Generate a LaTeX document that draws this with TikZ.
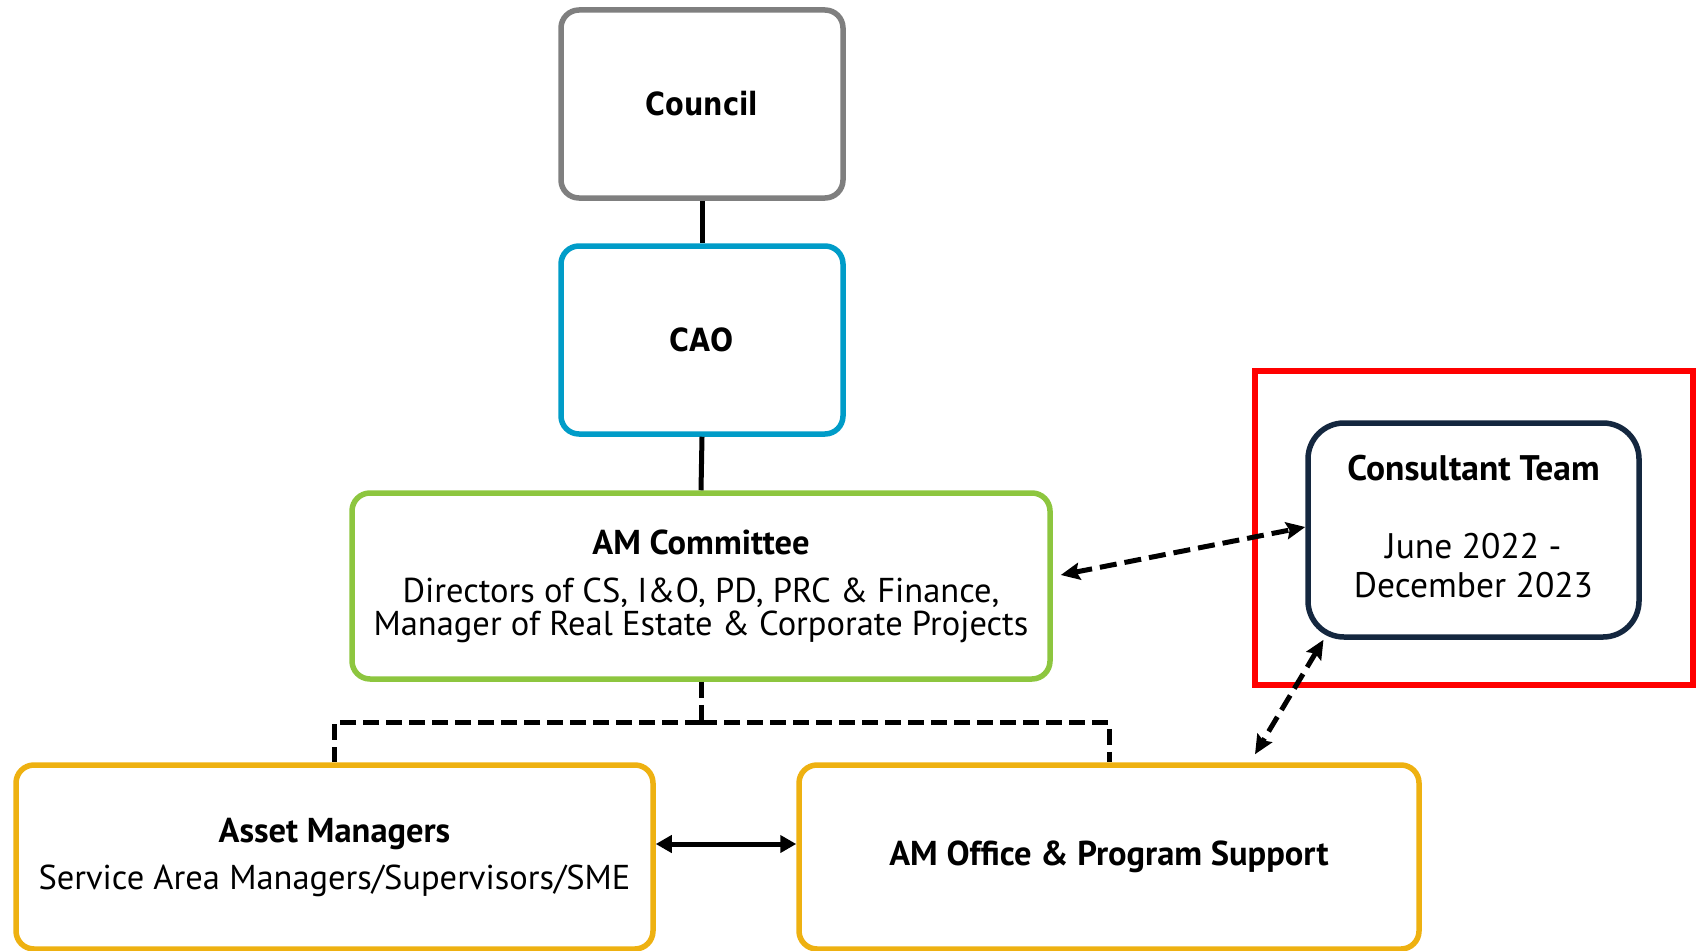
\documentclass[tikz,border=0pt]{standalone}
\usepackage{fontspec}
\setmainfont{PT Sans}
\newfontfamily\hfont{DejaVu Sans}[FakeStretch=0.85]
\usetikzlibrary{arrows.meta,calc}
\definecolor{cgray}{HTML}{7F7F7F}
\definecolor{cblue}{HTML}{009CC8}
\definecolor{cgreen}{HTML}{8DC63F}
\definecolor{cyel}{HTML}{EEB111}
\definecolor{cnavy}{HTML}{14273F}
\definecolor{cred}{HTML}{FF0000}
\begin{document}
\begin{tikzpicture}[x=1pt,y=-1pt,
  box/.style={draw, line width=5.5pt, rounded corners=18pt, fill=white, align=center, inner sep=0pt},
  ttl/.style={font=\hfont\bfseries\fontsize{32}{39}\selectfont},
  txt/.style={font=\fontsize{34.5}{33}\selectfont},
  solidline/.style={line width=5pt},
  dline/.style={line width=5pt, dash pattern=on 16pt off 7pt},
  darrow/.style={line width=5pt, dash pattern=on 17pt off 8pt, {Stealth[length=19pt,width=17pt,inset=3pt]}-{Stealth[length=19pt,width=17pt,inset=3pt]}},
  sarrow/.style={line width=5pt, {Triangle[length=16pt,width=17pt]}-{Triangle[length=16pt,width=17pt]}}]
\useasboundingbox (0,0) rectangle (1699,950);

\node[box, draw=cgray, minimum width=282pt, minimum height=188pt, ttl] (council) at (702,104) {Council};
\node[box, draw=cblue, minimum width=282pt, minimum height=188pt, ttl] (cao) at (702,340) {CAO};
\node[box, draw=cgreen, minimum width=698pt, minimum height=186pt, txt] (amc) at (701,586)
  {\textbf{AM Committee}\\[15pt]Directors of CS, I\&O, PD, PRC \& Finance,\\Manager of Real Estate \& Corporate Projects};
\node[box, draw=cyel, minimum width=637pt, minimum height=184pt, txt] (asset) at (334.5,857)
  {\textbf{Asset Managers}\\[14pt]Service Area Managers/Supervisors/SME};
\node[box, draw=cyel, minimum width=620pt, minimum height=184pt, txt] (office) at (1109,857)
  {\textbf{AM Office \& Program Support}};
\node[draw=cred, line width=6pt, minimum width=438pt, minimum height=314pt, inner sep=0pt] (redframe) at (1474,528) {};
\node[box, draw=cnavy, rounded corners=36pt, minimum width=331pt, minimum height=214pt, font=\fontsize{35.5}{39}\selectfont] (cons) at (1473.5,530)
  {\textbf{Consultant Team}\\[39pt]June 2022 -\\December 2023\\[-31pt]};

\draw[solidline] (council.south) -- (cao.north);
\draw[solidline] (cao.south) -- (amc.north);
\coordinate (split) at ($(amc.south)+(0,41)$);
\draw[dline] (amc.south) -- (split);
\draw[dline] (split) -| (asset.north);
\draw[dline] (split) -| (office.north);
\draw[sarrow] (asset.east |- 0,844) -- (office.west |- 0,844);
\draw[darrow] ([xshift=8pt,yshift=11pt]amc.east) -- ([yshift=3pt]cons.west);
\draw[darrow] ([xshift=-150pt]cons.south) -- ([xshift=146pt,yshift=8pt]office.north);
\end{tikzpicture}
\end{document}
